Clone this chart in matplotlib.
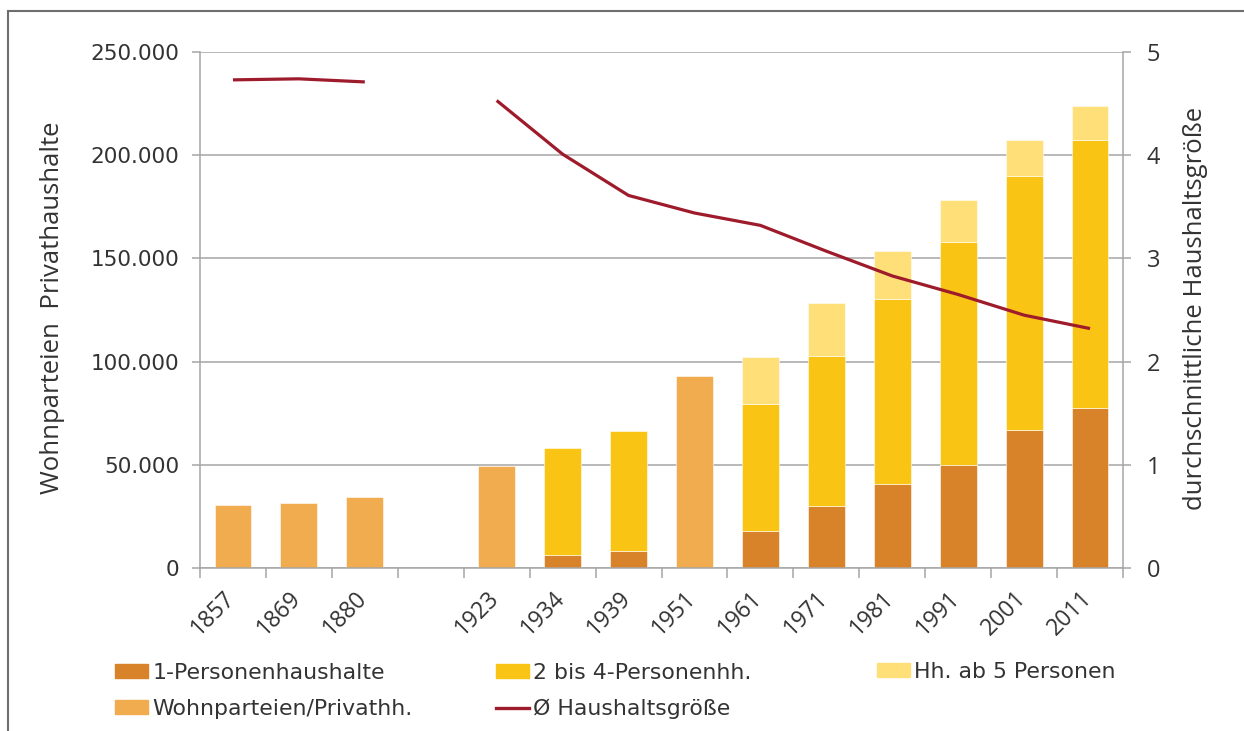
import numpy as np
import matplotlib
matplotlib.use("Agg")
import matplotlib.pyplot as plt
from matplotlib.patches import Patch, Rectangle
from matplotlib.lines import Line2D
from matplotlib.ticker import FuncFormatter
from matplotlib.transforms import ScaledTranslation

plt.rcParams['font.family'] = ['Open Sans', 'DejaVu Sans']

# Zaehljahre (leerer Platz zwischen 1880 und 1923)
jahre = ['1857', '1869', '1880', '', '1923', '1934', '1939', '1951',
         '1961', '1971', '1981', '1991', '2001', '2011']
nan = np.nan

# Wohnparteien / Privathaushalte gesamt (nur Jahre ohne Aufteilung)
wohnparteien = [30700, 31500, 34600, nan, 49200, nan, nan, 93100,
                nan, nan, nan, nan, nan, nan]
# Privathaushalte nach Groesse
ein_pers = [nan, nan, nan, nan, nan, 6300, 8000, nan,
            17800, 30200, 40500, 50100, 66800, 77700]
zwei_vier = [nan, nan, nan, nan, nan, 52000, 58200, nan,
             61800, 72500, 90000, 107700, 123100, 129600]
ab_fuenf = [nan, nan, nan, nan, nan, nan, nan, nan,
            22700, 25700, 23300, 20400, 17500, 16300]
# durchschnittliche Haushaltsgroesse
hh_groesse = [4.73, 4.74, 4.71, nan, 4.53, 4.01, 3.61, 3.44,
              3.32, 3.07, 2.83, 2.65, 2.45, 2.32]

c_ein = '#d8832a'
c_zwei = '#f9c413'
c_fuenf = '#fedf78'
c_wohn = '#f0ac4e'
c_linie = '#9e1b2c'
c_grau = '#a6a6a6'
c_text = '#333333'

W, H = 1244, 731
fig = plt.figure(figsize=(W / 100, H / 100), dpi=100)
ax = fig.add_axes([200 / W, 1 - 568 / H, 923 / W, 516 / H])
ax2 = ax.twinx()

x = np.arange(len(jahre))
b_ein = np.nan_to_num(ein_pers)
b_zwei = b_ein + np.nan_to_num(zwei_vier)

bw = 0.56
ax.bar(x, wohnparteien, width=bw, color=c_wohn, edgecolor='white', linewidth=0.4, zorder=2)
ax.bar(x, ein_pers, width=bw, color=c_ein, edgecolor='white', linewidth=0.4, zorder=2)
ax.bar(x, zwei_vier, width=bw, bottom=b_ein, color=c_zwei, edgecolor='white', linewidth=0.4, zorder=2)
ax.bar(x, ab_fuenf, width=bw, bottom=b_zwei, color=c_fuenf, edgecolor='white', linewidth=0.4, zorder=2)

ax2.plot(x, hh_groesse, color=c_linie, lw=2.3, solid_capstyle='butt', zorder=3)

ax.set_xlim(-0.5, len(jahre) - 0.5)
ax.set_ylim(0, 250000)
ax2.set_ylim(0, 5)
ax.set_yticks(np.arange(0, 250001, 50000))
ax2.set_yticks(np.arange(0, 6, 1))
ax.yaxis.set_major_formatter(FuncFormatter(lambda v, p: f"{v:,.0f}".replace(',', '.')))

ax.set_axisbelow(True)
ax.yaxis.grid(True, color=c_grau, lw=1.1)

for a in (ax, ax2):
    a.spines['top'].set_visible(False)
    for s in ('left', 'right', 'bottom'):
        a.spines[s].set_color(c_grau)
        a.spines[s].set_linewidth(1.1)
ax.spines['right'].set_visible(False)
ax2.spines['left'].set_visible(False)
ax2.spines['bottom'].set_visible(False)

ax.set_xticks(x)
ax.set_xticklabels(jahre, rotation=45, ha='right', va='top', family='Open Sans')
ax.set_xticks(np.arange(-0.5, len(jahre), 1), minor=True)
ax.tick_params(axis='x', which='major', length=0, pad=13, labelsize=16.5, labelcolor=c_text)
ax.tick_params(axis='x', which='minor', length=7, width=1.1, color=c_grau)
versatz = ScaledTranslation(7 / 100, 0, fig.dpi_scale_trans)
for lab in ax.get_xticklabels():
    lab.set_transform(lab.get_transform() + versatz)

ax.tick_params(axis='y', length=6, width=1.1, color=c_grau, pad=9, labelsize=15.5,
               labelcolor=c_text, labelfontfamily='DejaVu Sans')
ax2.tick_params(axis='y', length=6, width=1.1, color=c_grau, pad=11, labelsize=17,
                labelcolor=c_text, labelfontfamily='Open Sans')

fig.text(53 / W, 1 - 308 / H, 'Wohnparteien  Privathaushalte', rotation=90,
         ha='center', va='center', fontsize=18.5, color=c_text, family='Open Sans')
fig.text(1195 / W, 1 - 308 / H, 'durchschnittliche Haushaltsgröße', rotation=90,
         ha='center', va='center', fontsize=18.5, color=c_text, family='Open Sans')

# Legende in drei Spalten
leg_kw = dict(frameon=False, handlelength=1.5, handleheight=0.62,
              handletextpad=0.2, labelspacing=0.72, borderpad=0, borderaxespad=0,
              loc='center left', labelcolor=c_text,
              prop={'family': 'DejaVu Sans', 'size': 15.8})
spalte1 = [Patch(color=c_ein), Patch(color=c_wohn)]
spalte2 = [Patch(color=c_zwei), Line2D([], [], color=c_linie, lw=2.4)]
spalte3 = [Patch(color=c_fuenf)]
fig.legend(spalte1, ['1-Personenhaushalte', 'Wohnparteien/Privathh.'],
           bbox_to_anchor=(115 / W, 1 - 691 / H), **leg_kw)
fig.legend(spalte2, ['2 bis 4-Personenhh.', 'Ø Haushaltsgröße'],
           bbox_to_anchor=(496 / W, 1 - 691 / H), **leg_kw)
fig.legend(spalte3, ['Hh. ab 5 Personen'],
           bbox_to_anchor=(877 / W, 1 - 672 / H), **leg_kw)

# Rahmen um die Grafik
fig.patches.append(Rectangle((8 / W, -0.05), 1.1, 1 - 11 / H + 0.05, transform=fig.transFigure,
                             fill=False, edgecolor='#6e6e6e', lw=1.5))

fig.savefig('out.png', dpi=100)
